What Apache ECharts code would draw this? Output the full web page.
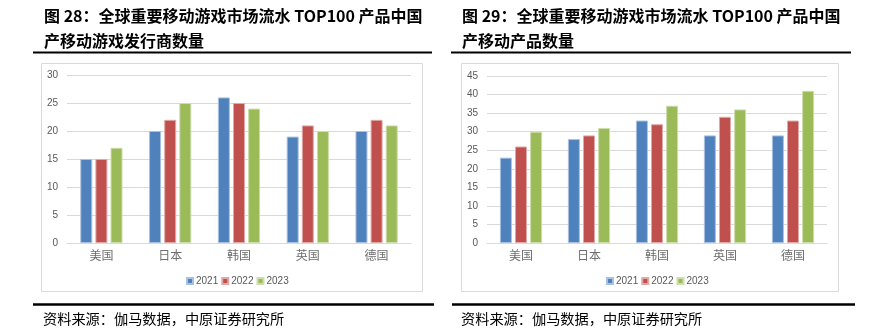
<!DOCTYPE html>
<html>
<head>
<meta charset="utf-8">
<script src="https://cdn.jsdelivr.net/npm/echarts@6/dist/echarts.min.js"></script>
<style>
  html, body { margin: 0; padding: 0; background: #ffffff; }
  #chart { width: 889px; height: 331px; }
</style>
</head>
<body>
<div id="chart"></div>
<script>
// Countries shared by both panels
const countries = ['美国', '日本', '韩国', '英国', '德国'];
const years = ['2021', '2022', '2023'];

// Panel 1: Chinese publishers among top-100 grossing mobile games, by market
const publishers2021 = [15, 20, 26, 19, 20];
const publishers2022 = [15, 22, 25, 21, 22];
const publishers2023 = [17, 25, 24, 20, 21];

// Panel 2: Chinese products among top-100 grossing mobile games, by market
const products2021 = [23, 28, 33, 29, 29];
const products2022 = [26, 29, 32, 34, 33];
const products2023 = [30, 31, 37, 36, 41];

// Axis ticks
const leftTicks = { min: 0, max: 30, interval: 5 };
const rightTicks = { min: 0, max: 45, interval: 5 };

const colors = ['#4F81BD', '#C0504D', '#9BBB59'];
const borders = ['#A9C1E0', '#E0A9A7', '#CDDDAC'];

const titleFont = 'bold 16px "Noto Sans CJK SC", "Liberation Sans", sans-serif';
const sourceFont = '14.2px "Noto Sans CJK SC", sans-serif';

const chart = echarts.init(document.getElementById('chart'), null, { renderer: 'canvas' });

function barSeries(name, data, idx, axisIdx) {
  return {
    name: name,
    type: 'bar',
    xAxisIndex: axisIdx,
    yAxisIndex: axisIdx,
    data: data,
    barWidth: 12,
    barGap: '26%',
    itemStyle: { color: colors[idx], borderColor: borders[idx], borderWidth: 1 },
    emphasis: { disabled: true }
  };
}

function xAxisCfg(gridIndex) {
  return {
    type: 'category',
    gridIndex: gridIndex,
    data: countries,
    axisLine: { lineStyle: { color: '#D9D9D9', width: 1 } },
    axisTick: { show: false },
    axisLabel: { color: '#6E6E6E', fontSize: 12, margin: 6,
      fontFamily: '"Noto Sans CJK SC", sans-serif' }
  };
}

function yAxisCfg(gridIndex, t) {
  return {
    type: 'value',
    gridIndex: gridIndex,
    min: t.min, max: t.max, interval: t.interval,
    axisLine: { show: false },
    axisTick: { show: false },
    splitLine: { lineStyle: { color: '#D9D9D9', width: 1 } },
    axisLabel: { color: '#595959', fontSize: 10, margin: 9,
      fontFamily: '"Liberation Sans", Arial, sans-serif' }
  };
}

function legendCfg(centerX) {
  return {
    data: years,
    left: centerX - 52,
    top: 271,
    itemWidth: 6,
    itemHeight: 6,
    itemGap: 3,
    icon: 'rect',
    selectedMode: false,
    textStyle: { color: '#595959', fontSize: 10, fontFamily: '"Liberation Sans", Arial, sans-serif', padding: [0, 0, 0, -2] }
  };
}

function textEl(x, y, text, font, fill) {
  return {
    type: 'text', x: x, y: y, silent: true,
    style: { text: text, font: font, fill: fill || '#000000', textVerticalAlign: 'middle' }
  };
}

function lineEl(x1, x2, y, w) {
  return { type: 'line', silent: true,
    shape: { x1: x1, y1: y, x2: x2, y2: y },
    style: { stroke: '#000000', lineWidth: w } };
}

function boxEl(x, y, w, h) {
  return { type: 'rect', silent: true, z: -1,
    shape: { x: x, y: y, width: w, height: h },
    style: { fill: '#ffffff', stroke: '#D9D9D9', lineWidth: 1 } };
}

chart.setOption({
  animation: false,
  grid: [
    { left: 67, top: 75, width: 344, height: 168 },
    { left: 487, top: 76, width: 340, height: 167 }
  ],
  xAxis: [xAxisCfg(0), xAxisCfg(1)],
  yAxis: [yAxisCfg(0, leftTicks), yAxisCfg(1, rightTicks)],
  legend: [legendCfg(233), legendCfg(653)],
  series: [
    barSeries(years[0], publishers2021, 0, 0),
    barSeries(years[1], publishers2022, 1, 0),
    barSeries(years[2], publishers2023, 2, 0),
    barSeries(years[0], products2021, 0, 1),
    barSeries(years[1], products2022, 1, 1),
    barSeries(years[2], products2023, 2, 1)
  ],
  graphic: [
    // panel titles
    textEl(44, 16, '图 28：全球重要移动游戏市场流水 TOP100 产品中国', titleFont),
    textEl(44, 41, '产移动游戏发行商数量', titleFont),
    textEl(462, 16, '图 29：全球重要移动游戏市场流水 TOP100 产品中国', titleFont),
    textEl(462, 41, '产移动产品数量', titleFont),
    // rules under titles and above sources
    lineEl(33, 432, 52.5, 2),
    lineEl(451, 851, 52.5, 2),
    lineEl(33, 434, 304.5, 2.5),
    lineEl(452, 855, 304.5, 2.5),
    // chart frames
    boxEl(41.5, 63.5, 381, 228),
    boxEl(461.5, 63.5, 377, 228),
    // sources
    textEl(43, 319, '资料来源：伽马数据，中原证券研究所', sourceFont, '#000000'),
    textEl(461, 319, '资料来源：伽马数据，中原证券研究所', sourceFont, '#000000')
  ]
});
</script>
</body>
</html>
